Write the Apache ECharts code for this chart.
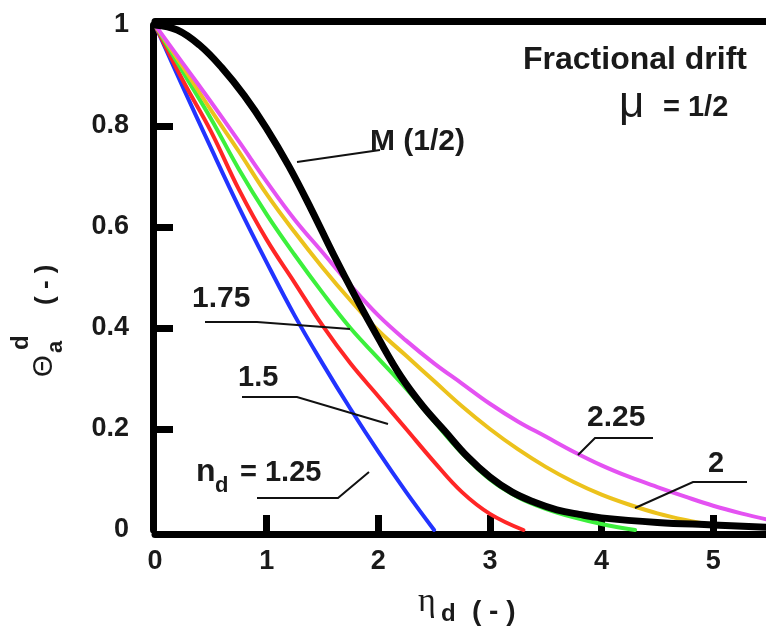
<!DOCTYPE html>
<html><head><meta charset="utf-8">
<script src="https://cdn.jsdelivr.net/npm/echarts@6/dist/echarts.min.js"></script>
<style>html,body{margin:0;padding:0;background:#fff}#c{width:766px;height:637px}</style>
</head><body><div id="c"></div>
<script>
// ---- data ----
const X_125 = [0,0.25,0.5,0.75,1,1.25,1.5,1.75,2,2.25,2.5];
const Y_125 = [1,0.877,0.757,0.64,0.53,0.425,0.33,0.24,0.155,0.075,0];

const X_150 = [0,0.25,0.5,0.75,1,1.25,1.5,1.75,2,2.25,2.5,2.75,3,3.3];
const Y_150 = [1,0.89,0.79,0.675,0.575,0.49,0.405,0.33,0.265,0.2,0.135,0.075,0.032,0];

const X_175 = [0,0.25,0.5,0.75,1,1.25,1.5,1.75,2,2.25,2.5,2.75,3,3.25,3.5,3.75,4,4.3];
const Y_175 = [1,0.907,0.815,0.715,0.625,0.545,0.47,0.4,0.34,0.28,0.215,0.152,0.1,0.065,0.042,0.025,0.012,0];

const X_200 = [0,0.25,0.5,0.75,1,1.25,1.5,1.75,2,2.25,2.5,2.75,3,3.25,3.5,3.75,4,4.25,4.5,4.75,5];
const Y_200 = [1,0.917,0.832,0.75,0.665,0.59,0.52,0.455,0.395,0.345,0.295,0.245,0.2,0.16,0.125,0.095,0.07,0.05,0.033,0.02,0.01];

const X_225 = [0,0.25,0.5,0.75,1,1.25,1.5,1.75,2,2.25,2.5,2.75,3,3.25,3.5,3.75,4,4.25,4.5,4.75,5,5.25,5.5];
const Y_225 = [1,0.924,0.848,0.77,0.69,0.615,0.55,0.485,0.425,0.375,0.33,0.29,0.25,0.215,0.185,0.155,0.128,0.105,0.085,0.066,0.048,0.033,0.02];

const X_M = [0,0.2,0.4,0.6,0.8,1,1.2,1.4,1.6,1.8,2,2.2,2.4,2.6,2.8,3,3.2,3.4,3.6,3.8,4,4.5,5,5.5];
const Y_M = [1,0.99,0.96,0.915,0.86,0.795,0.72,0.635,0.545,0.46,0.38,0.305,0.245,0.195,0.145,0.105,0.075,0.055,0.04,0.031,0.024,0.015,0.01,0.005];

const X_TICKS = [0,1,2,3,4,5];
const X_TICK_MARKS = [1,2,3,4,5];
const Y_TICK_MARKS = [0.2,0.4,0.6,0.8];
const Y_TICK_STEP = 0.2;

function pairs(xs, ys){ return xs.map((x,i)=>[x, ys[i]]); }

const FONT = 'Liberation Sans';
const INK = '#1a1a1a';
function T(text, x, y, size, extra){
  return Object.assign({type:'text', x:x, y:y, z:100, style:Object.assign({
    text:text, fontSize:size, fontWeight:'bold', fontFamily:FONT, fill:INK,
    align:'left', verticalAlign:'middle'}, (extra||{}))});
}
function L(points){
  return {type:'polyline', z:100, shape:{points:points}, style:{stroke:'#111', lineWidth:2, fill:null}};
}

function lineSeries(name, xs, ys, color, width){
  return {name:name, type:'line', data:pairs(xs, ys), showSymbol:false, symbol:'none',
    smooth:0.4, clip:true,
    lineStyle:{color:color, width:width, cap:'round', join:'round'}};
}

const chart = echarts.init(document.getElementById('c'), null, {renderer:'canvas'});
chart.setOption({
  animation:false,
  backgroundColor:'#fff',
  grid:{left:155, top:25, width:614, height:505, outerBoundsMode:'none', containLabel:false},
  xAxis:[{
    type:'value', min:0, max:5.5, interval:1, offset:4,
    axisLine:{show:true, onZero:false, lineStyle:{color:'#000', width:7}},
    axisTick:{show:true, inside:true, length:19, customValues:X_TICK_MARKS, lineStyle:{color:'#000', width:7}},
    axisLabel:{margin:14, fontSize:27, fontWeight:'bold', fontFamily:FONT, color:INK,
      formatter:function(v){ return X_TICKS.indexOf(v) >= 0 ? String(v) : ''; }},
    splitLine:{show:false}
  },{
    type:'value', min:0, max:5.5, position:'top', offset:4,
    axisLine:{show:true, onZero:false, lineStyle:{color:'#000', width:7}},
    axisTick:{show:false}, axisLabel:{show:false}, splitLine:{show:false}
  }],
  yAxis:{
    type:'value', min:0, max:1, interval:Y_TICK_STEP, offset:2,
    axisLine:{show:true, onZero:false, lineStyle:{color:'#000', width:7}},
    axisTick:{show:true, inside:true, length:20, customValues:Y_TICK_MARKS, lineStyle:{color:'#000', width:7}},
    axisLabel:{margin:24, fontSize:27, fontWeight:'bold', fontFamily:FONT, color:INK},
    splitLine:{show:false}
  },
  series:[
    lineSeries('1.25', X_125, Y_125, '#2233ff', 4),
    lineSeries('1.5',  X_150, Y_150, '#ff2626', 4),
    lineSeries('1.75', X_175, Y_175, '#3cf03c', 4),
    lineSeries('2',    X_200, Y_200, '#ecc21c', 4),
    lineSeries('2.25', X_225, Y_225, '#e452f2', 4),
    lineSeries('M (1/2)', X_M, Y_M, '#000000', 7)
  ],
  graphic:[
    T('Fractional drift', 523, 60, 32),
    T('\u03bc', 619, 105, 44, {fontWeight:'normal'}),
    T('= 1/2', 663, 108, 29),
    T('M (1/2)', 370, 142, 30),
    L([[297,162],[380,150]]),
    T('1.75', 192, 299, 30),
    L([[205,322],[257,322],[350,329]]),
    T('1.5', 238, 378, 29),
    L([[242,397],[297,397],[388,424]]),
    T('n', 196, 472, 32),
    T('d', 215, 486, 22),
    T('= 1.25', 240, 473, 29),
    L([[257,498],[338,498],[369,472]]),
    T('2.25', 587, 418, 30),
    L([[578,455],[595,438],[653,438]]),
    T('2', 708, 464, 29),
    L([[635,508],[693,482],[747,482]]),
    // x-axis title
    T('\u03b7', 418, 602, 34, {fontWeight:'normal', fontFamily:'Liberation Serif'}),
    T('d', 441, 614, 24),
    T('( - )', 472, 612, 28),
    // y-axis title (rotated)
    {type:'group', x:44, y:380, rotation:Math.PI/2, z:100, children:[
      T('\u0398', 3, 0, 28, {fontWeight:'normal'}),
      T('a', 27, 12, 22),
      T('d', 30, -23, 24),
      T('( - )', 75, 2, 26)
    ]}
  ]
});
</script></body></html>
